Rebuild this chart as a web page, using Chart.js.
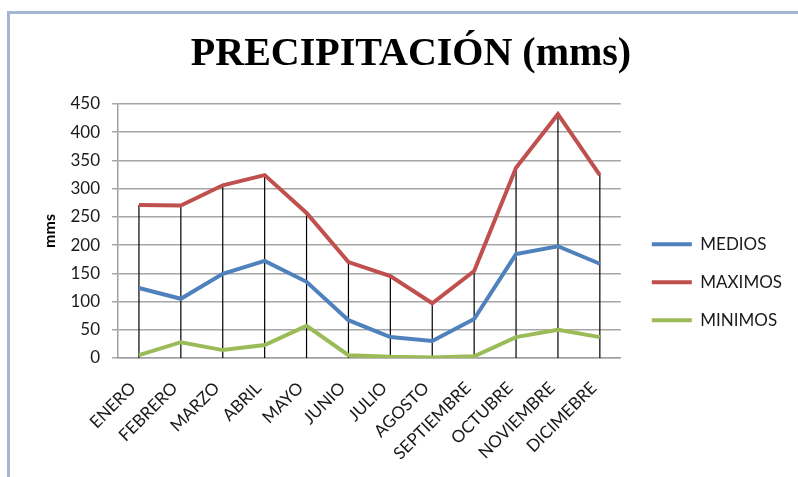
<!DOCTYPE html>
<html>
<head>
<meta charset="utf-8">
<script src="https://cdn.jsdelivr.net/npm/chart.js@4.4.1/dist/chart.umd.min.js"></script>
<style>
  html, body { margin: 0; padding: 0; background: #fff; overflow: hidden; }
  #frame {
    position: absolute; left: 7px; top: 11px; width: 800px; height: 480px;
    border-left: 3px solid #a3b7d3; border-top: 3px solid #a3b7d3;
  }
  #wrap { position: absolute; left: 10px; top: 13px; width: 788px; height: 464px; }
</style>
</head>
<body>
<div id="frame"></div>
<div id="wrap"><canvas id="myChart"></canvas></div>
<script>
const months = ['ENERO', 'FEBRERO', 'MARZO', 'ABRIL', 'MAYO', 'JUNIO', 'JULIO', 'AGOSTO',
  'SEPTIEMBRE', 'OCTUBRE', 'NOVIEMBRE', 'DICIMEBRE'];
const medios = [124, 105, 149, 172, 135, 67, 37, 30, 69, 184, 198, 167];
const maximos = [271, 270, 306, 324, 257, 170, 145, 97, 154, 337, 432, 324];
const minimos = [5, 28, 14, 23, 57, 5, 2, 1, 3, 37, 50, 37];

// black drop lines from the MAXIMOS line down to zero
const dropLines = {
  id: 'dropLines',
  beforeDatasetsDraw(chart) {
    const x = chart.scales.x;
    const y = chart.scales.y;
    const ctx = chart.ctx;
    ctx.save();
    ctx.strokeStyle = '#000';
    ctx.lineWidth = 1.2;
    maximos.forEach(function (v, i) {
      const px = x.getPixelForValue(i);
      ctx.beginPath();
      ctx.moveTo(px, y.getPixelForValue(v));
      ctx.lineTo(px, y.getPixelForValue(0));
      ctx.stroke();
    });
    ctx.restore();
  }
};

// leave a small gap between the plot and the legend
const legendGap = {
  id: 'legendGap',
  afterLayout(chart) {
    chart.legend.left += 10;
    chart.legend.right += 10;
  }
};

const ctx = document.getElementById('myChart').getContext('2d');
const chart = new Chart(ctx, {
  type: 'line',
  data: {
    labels: months,
    datasets: [
      { label: 'MEDIOS', data: medios, borderColor: '#4f81bd', backgroundColor: '#4f81bd', borderWidth: 4 },
      { label: 'MAXIMOS', data: maximos, borderColor: '#c0504d', backgroundColor: '#c0504d', borderWidth: 4 },
      { label: 'MINIMOS', data: minimos, borderColor: '#9bbb59', backgroundColor: '#9bbb59', borderWidth: 4 },
    ],
  },
  options: {
    responsive: true,
    maintainAspectRatio: false,
    animation: false,
    elements: {
      line: { tension: 0 },
      point: { radius: 0 },
    },
    layout: { padding: { left: 30, right: 16, top: 0, bottom: 0 } },
    plugins: {
      title: {
        display: true,
        text: 'PRECIPITACIÓN (mms)',
        color: '#000',
        font: { family: 'Liberation Serif', size: 40, weight: 'bold', lineHeight: 1.2 },
        padding: { top: 18, bottom: 25 },
      },
      legend: {
        position: 'right',
        title: { display: true, text: '', padding: { top: 60, bottom: 0 } },
        labels: {
          usePointStyle: true,
          pointStyle: 'line',
          pointStyleWidth: 40,
          padding: 21,
          color: '#1a1a1a',
          font: { family: 'Lato', size: 17 },
        },
      },
      tooltip: { enabled: false },
    },
    scales: {
      x: {
        offset: true,
        grid: { display: false },
        border: { display: true, color: '#a0a0a0', width: 1.5 },
        ticks: {
          autoSkip: false,
          maxRotation: 45,
          minRotation: 45,
          padding: 12,
          labelOffset: -6,
          color: '#1a1a1a',
          font: { family: 'Lato', size: 17 },
        },
        afterFit(scale) { scale.height = 119; },
      },
      y: {
        min: 0,
        max: 450,
        ticks: {
          stepSize: 50,
          padding: 12,
          color: '#1a1a1a',
          font: { family: 'Lato', size: 17 },
        },
        grid: { color: '#a6a6a6', lineWidth: 1.5, tickLength: 6 },
        border: { display: true, color: '#a0a0a0', width: 1.5 },
        title: {
          display: true,
          text: 'mms',
          color: '#000',
          padding: 0,
          font: { family: 'Lato', size: 16, weight: 'bold' },
        },
        afterFit(scale) { scale.width = 78; },
      },
    },
  },
  plugins: [dropLines, legendGap],
});
</script>
</body>
</html>
